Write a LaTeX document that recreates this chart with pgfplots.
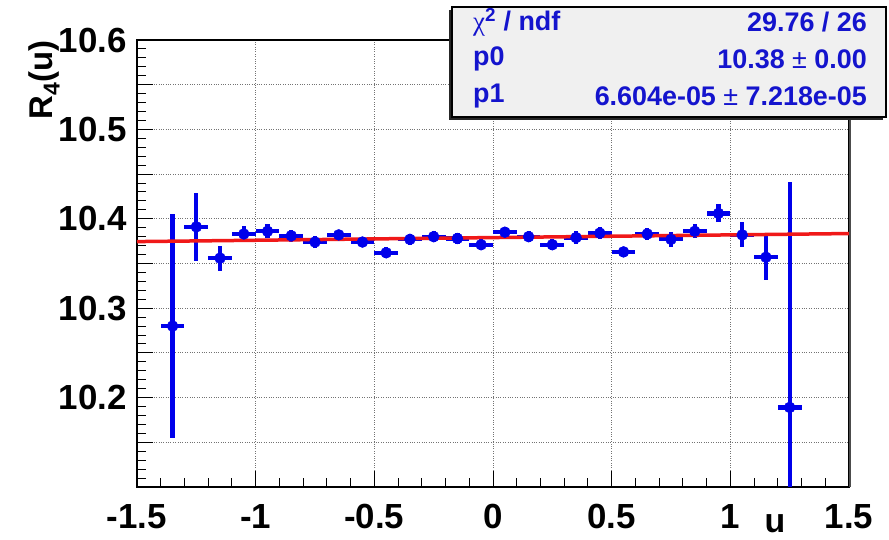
\documentclass[border=0pt]{standalone}
\usepackage{pgfplots}
\usepackage{pgfplotstable}
\pgfplotsset{compat=1.18}
\usepackage{fontspec}
\setmainfont{Liberation Sans}
\newfontfamily\serifchi{Liberation Serif}
\definecolor{rblue}{RGB}{0,0,235}
\definecolor{tblue}{RGB}{20,20,205}
\definecolor{rred}{RGB}{240,25,25}
\definecolor{boxfill}{RGB}{240,240,240}
\pgfplotstableread{
x y ex ey
-1.35 10.280 0.05 0.125
-1.25 10.391 0.05 0.038
-1.15 10.356 0.05 0.014
-1.05 10.383 0.05 0.009
-0.95 10.386 0.05 0.008
-0.85 10.381 0.05 0.007
-0.75 10.374 0.05 0.007
-0.65 10.382 0.05 0.006
-0.55 10.374 0.05 0.006
-0.45 10.362 0.05 0.006
-0.35 10.377 0.05 0.006
-0.25 10.380 0.05 0.006
-0.15 10.378 0.05 0.006
-0.05 10.371 0.05 0.006
0.05 10.385 0.05 0.006
0.15 10.380 0.05 0.006
0.25 10.371 0.05 0.006
0.35 10.379 0.05 0.007
0.45 10.384 0.05 0.007
0.55 10.363 0.05 0.006
0.65 10.383 0.05 0.007
0.75 10.377 0.05 0.008
0.85 10.386 0.05 0.008
0.95 10.406 0.05 0.010
1.05 10.382 0.05 0.014
1.15 10.357 0.05 0.025
1.25 10.189 0.05 0.252
}\datatab
\pgfplotstableread{
x y
-1.5 10.3745
1.5 10.3835
}\fittab
\begin{document}
\begin{tikzpicture}
\useasboundingbox (-137bp,-53bp) rectangle (752bp,487bp);
\begin{axis}[
  at={(0bp,0bp)}, anchor=south west, scale only axis,
  width=712bp, height=447bp,
  xmin=-1.5, xmax=1.5, ymin=10.1, ymax=10.6,
  xtick={-1.5,-1,-0.5,0,0.5,1,1.5},
  xticklabels={-1.5,-1,-0.5,0,0.5,1,1.5},
  ytick={10.1,10.15,10.2,10.25,10.3,10.35,10.4,10.45,10.5,10.55,10.6},
  yticklabels={,,10.2,,10.3,,10.4,,10.5,,10.6},
  minor x tick num=4, minor y tick num=4,
  tick pos=left, tick align=inside,
  major tick length=16bp, minor tick length=9bp,
  tick style={line width=1bp, black},
  grid=major,
  major grid style={dotted, line width=0.9bp, black!55},
  axis line style={line width=1.2bp, black},
  ticklabel style={font=\bfseries\fontsize{35}{35}\selectfont},
  xticklabel style={anchor=north, inner sep=0pt, yshift=-17bp},
  yticklabel style={anchor=east, inner sep=0pt, xshift=-10bp},
  xlabel={\bfseries u},
  x label style={at={(axis description cs:0.896,0)}, anchor=north, inner sep=0pt, yshift=-27bp, font=\fontsize{34}{34}\selectfont},
]
\addplot[rblue, only marks, mark=*, mark size=5.5bp, mark options={fill=rblue, draw=rblue},
  error bars/.cd, x dir=both, x explicit, y dir=both, y explicit,
  error mark=none, error bar style={line width=4.2bp, rblue}]
  table[x=x, y=y, x error=ex, y error=ey] {\datatab};
\addplot[rred, line width=3.5bp, no marks] table[x=x, y=y] {\fittab};
\end{axis}
\draw[black!70, line width=2.5bp] (713bp,0bp) -- (713bp,447bp);
\node[rotate=90, anchor=east, inner sep=0pt, font=\bfseries\fontsize{33}{33}\selectfont] at (-93bp,447bp) {R\textsubscript{4}(u)};
\fill[black!85] (312bp,367bp) rectangle (746bp,477bp);
\filldraw[fill=boxfill, draw=black, line width=1.2bp] (315bp,370bp) rectangle (749bp,480bp);
\begin{scope}[every node/.style={text=tblue, inner sep=0pt, font=\bfseries\fontsize{27}{27}\selectfont}]
\node[anchor=west] at (336bp,465bp) {{\mdseries\serifchi χ}\textsuperscript{2} / ndf};
\node[anchor=east] at (730bp,465bp) {29.76 / 26};
\node[anchor=west] at (336bp,428bp) {p0};
\node[anchor=east] at (730bp,428bp) {10.38 {\mdseries ±} 0.00};
\node[anchor=west] at (336bp,391bp) {p1};
\node[anchor=east] at (730bp,391bp) {6.604e-05 {\mdseries ±} 7.218e-05};
\end{scope}
\end{tikzpicture}
\end{document}
